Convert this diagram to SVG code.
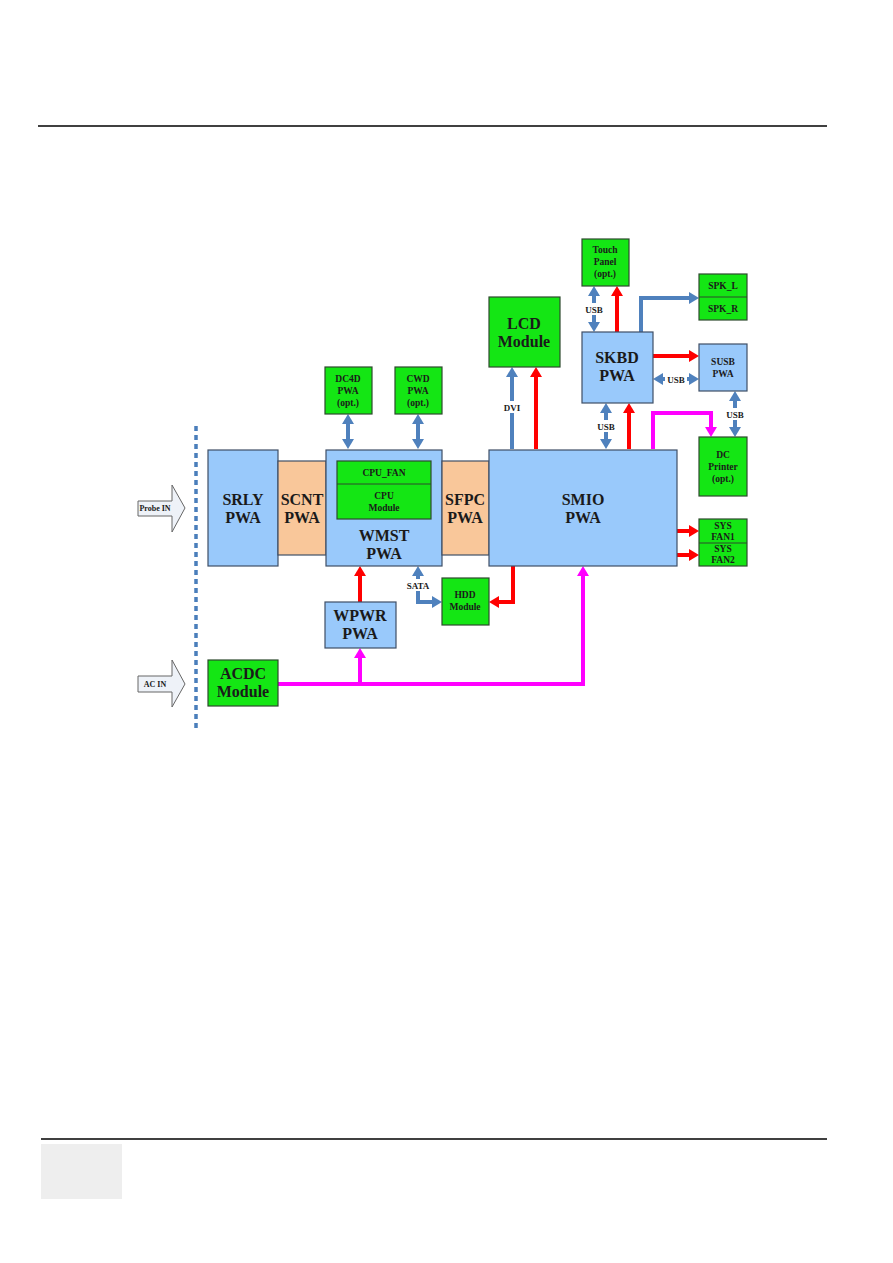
<svg xmlns="http://www.w3.org/2000/svg" width="893" height="1263" viewBox="0 0 893 1263">
<defs>
<style>
.t{font-family:"Liberation Serif","Times New Roman",serif;font-weight:bold;fill:#1a1a1a;text-anchor:middle}
.big{font-size:16px}
.sm{font-size:9.5px}
.lb{font-size:9px}
.blue{fill:#99c9fb;stroke:#3f4f66;stroke-width:1.2}
.peach{fill:#f9c79a;stroke:#3f4f66;stroke-width:1.2}
.green{fill:#14e614;stroke:#2d4a2d;stroke-width:1.2}
.cb{fill:none;stroke:#4f81bd;stroke-width:4}
.cr{fill:none;stroke:#ff0000;stroke-width:4}
.cm{fill:none;stroke:#ff00ff;stroke-width:4}
.inarrow{fill:#eef2f8;stroke:#666;stroke-width:1}
</style>
<marker id="aB" markerUnits="userSpaceOnUse" markerWidth="12" markerHeight="12" refX="6" refY="6" orient="auto-start-reverse"><path d="M0,0 L10,6 L0,12 z" fill="#4f81bd"/></marker>
<marker id="aR" markerUnits="userSpaceOnUse" markerWidth="12" markerHeight="12" refX="6" refY="6" orient="auto-start-reverse"><path d="M0,0 L10,6 L0,12 z" fill="#ff0000"/></marker>
<marker id="aM" markerUnits="userSpaceOnUse" markerWidth="12" markerHeight="12" refX="6" refY="6" orient="auto-start-reverse"><path d="M0,0 L10,6 L0,12 z" fill="#ff00ff"/></marker>
</defs>
<rect width="893" height="1263" fill="#ffffff"/>
<g id="page">
<line x1="38" y1="126" x2="827" y2="126" stroke="#000" stroke-width="1.5"/>
<line x1="41" y1="1139" x2="827" y2="1139" stroke="#000" stroke-width="1.5"/>
<rect x="41" y="1144" width="81" height="55" fill="#eeeeee"/>
<line x1="196" y1="426" x2="196" y2="731" stroke="#4a7ebb" stroke-width="3.5" stroke-dasharray="5 4"/>
</g>
<g id="probe-in">
<path class="inarrow" d="M138,501 L172,501 L172,485 L185,508 L172,532 L172,516 L138,516 Z"/>
<text class="t" x="155" y="511" font-size="8">Probe IN</text>
</g>
<g id="ac-in">
<path class="inarrow" d="M138,676 L172,676 L172,660 L185,684 L172,707 L172,692 L138,692 Z"/>
<text class="t" x="155" y="687" font-size="8">AC IN</text>
</g>
<g id="connectors">
<path class="cb" d="M348,418 V445" marker-start="url(#aB)" marker-end="url(#aB)"/>
<path class="cb" d="M418,418 V445" marker-start="url(#aB)" marker-end="url(#aB)"/>
<path class="cb" d="M512,449 V371" marker-end="url(#aB)"/>
<path class="cb" d="M594,290 V328" marker-start="url(#aB)" marker-end="url(#aB)"/>
<path class="cb" d="M606,407 V445" marker-start="url(#aB)" marker-end="url(#aB)"/>
<path class="cb" d="M641,332 V298 H695" marker-end="url(#aB)"/>
<path class="cb" d="M657,379 H695" marker-start="url(#aB)" marker-end="url(#aB)"/>
<path class="cb" d="M735,395 V433" marker-start="url(#aB)" marker-end="url(#aB)"/>
<path class="cb" d="M418,570 V602 H438" marker-start="url(#aB)" marker-end="url(#aB)"/>
<path class="cr" d="M536,449 V371" marker-end="url(#aR)"/>
<path class="cr" d="M617,332 V290" marker-end="url(#aR)"/>
<path class="cr" d="M653,356 H695" marker-end="url(#aR)"/>
<path class="cr" d="M629,449 V407" marker-end="url(#aR)"/>
<path class="cr" d="M677,531 H695" marker-end="url(#aR)"/>
<path class="cr" d="M677,555 H695" marker-end="url(#aR)"/>
<path class="cr" d="M360,602 V570" marker-end="url(#aR)"/>
<path class="cr" d="M513,566 V602 H493" marker-end="url(#aR)"/>
<path class="cm" d="M653,449 V413 H711 V433" marker-end="url(#aM)"/>
<path class="cm" d="M278,684 H583 V570" marker-end="url(#aM)"/>
<path class="cm" d="M360,684 V652" marker-end="url(#aM)"/>
<rect x="501" y="401" width="22" height="12" fill="#fff"/>
<text class="t lb" x="512" y="411">DVI</text>
<rect x="583" y="303" width="22" height="12" fill="#fff"/>
<text class="t lb" x="594" y="313">USB</text>
<rect x="595" y="420" width="22" height="12" fill="#fff"/>
<text class="t lb" x="606" y="430">USB</text>
<rect x="665" y="373" width="22" height="12" fill="#fff"/>
<text class="t lb" x="676" y="383">USB</text>
<rect x="724" y="408" width="22" height="12" fill="#fff"/>
<text class="t lb" x="735" y="418">USB</text>
<rect x="404" y="579" width="28" height="12" fill="#fff"/>
<text class="t lb" x="418" y="589">SATA</text>
</g>
<g id="srly"><rect class="blue" x="208" y="450" width="70" height="116"/><text class="t big" x="243" y="505">SRLY</text><text class="t big" x="243" y="523">PWA</text></g>
<g id="scnt"><rect class="peach" x="278" y="461" width="48" height="94"/><text class="t big" x="302" y="505">SCNT</text><text class="t big" x="302" y="523">PWA</text></g>
<g id="wmst"><rect class="blue" x="326" y="450" width="116" height="116"/><text class="t big" x="384" y="541">WMST</text><text class="t big" x="384" y="559">PWA</text></g>
<g id="cpu"><rect class="green" x="337" y="461" width="94" height="58"/><line x1="337" y1="484" x2="431" y2="484" stroke="#2d4a2d" stroke-width="1"/><text class="t sm" x="384" y="476">CPU_FAN</text><text class="t sm" x="384" y="499">CPU</text><text class="t sm" x="384" y="511">Module</text></g>
<g id="sfpc"><rect class="peach" x="442" y="461" width="47" height="94"/><text class="t big" x="465" y="505">SFPC</text><text class="t big" x="465" y="523">PWA</text></g>
<g id="smio"><rect class="blue" x="489" y="450" width="188" height="116"/><text class="t big" x="583" y="505">SMIO</text><text class="t big" x="583" y="523">PWA</text></g>
<g id="dc4d"><rect class="green" x="325" y="367" width="47" height="47"/><text class="t sm" x="348" y="382">DC4D</text><text class="t sm" x="348" y="394">PWA</text><text class="t sm" x="348" y="406">(opt.)</text></g>
<g id="cwd"><rect class="green" x="395" y="367" width="47" height="47"/><text class="t sm" x="418" y="382">CWD</text><text class="t sm" x="418" y="394">PWA</text><text class="t sm" x="418" y="406">(opt.)</text></g>
<g id="lcd"><rect class="green" x="489" y="297" width="71" height="70"/><text class="t big" x="524" y="329">LCD</text><text class="t big" x="524" y="347">Module</text></g>
<g id="touch"><rect class="green" x="582" y="239" width="47" height="47"/><text class="t sm" x="605" y="253">Touch</text><text class="t sm" x="605" y="265">Panel</text><text class="t sm" x="605" y="277">(opt.)</text></g>
<g id="skbd"><rect class="blue" x="582" y="332" width="71" height="71"/><text class="t big" x="617" y="363">SKBD</text><text class="t big" x="617" y="381">PWA</text></g>
<g id="spk"><rect class="green" x="699" y="274" width="48" height="46"/><line x1="699" y1="297" x2="747" y2="297" stroke="#2d4a2d" stroke-width="1"/><text class="t sm" x="723" y="289">SPK_L</text><text class="t sm" x="723" y="312">SPK_R</text></g>
<g id="susb"><rect class="blue" x="699" y="344" width="48" height="47"/><text class="t sm" x="723" y="365">SUSB</text><text class="t sm" x="723" y="377">PWA</text></g>
<g id="dcprinter"><rect class="green" x="699" y="437" width="48" height="59"/><text class="t sm" x="723" y="458">DC</text><text class="t sm" x="723" y="470">Printer</text><text class="t sm" x="723" y="482">(opt.)</text></g>
<g id="sysfan"><rect class="green" x="699" y="519" width="48" height="47"/><line x1="699" y1="543" x2="747" y2="543" stroke="#2d4a2d" stroke-width="1"/><text class="t sm" x="723" y="529">SYS</text><text class="t sm" x="723" y="540">FAN1</text><text class="t sm" x="723" y="552">SYS</text><text class="t sm" x="723" y="563">FAN2</text></g>
<g id="wpwr"><rect class="blue" x="325" y="602" width="71" height="46"/><text class="t big" x="360" y="621">WPWR</text><text class="t big" x="360" y="639">PWA</text></g>
<g id="hdd"><rect class="green" x="442" y="578" width="47" height="47"/><text class="t sm" x="465" y="598">HDD</text><text class="t sm" x="465" y="610">Module</text></g>
<g id="acdc"><rect class="green" x="208" y="660" width="70" height="46"/><text class="t big" x="243" y="679">ACDC</text><text class="t big" x="243" y="697">Module</text></g>
</svg>
